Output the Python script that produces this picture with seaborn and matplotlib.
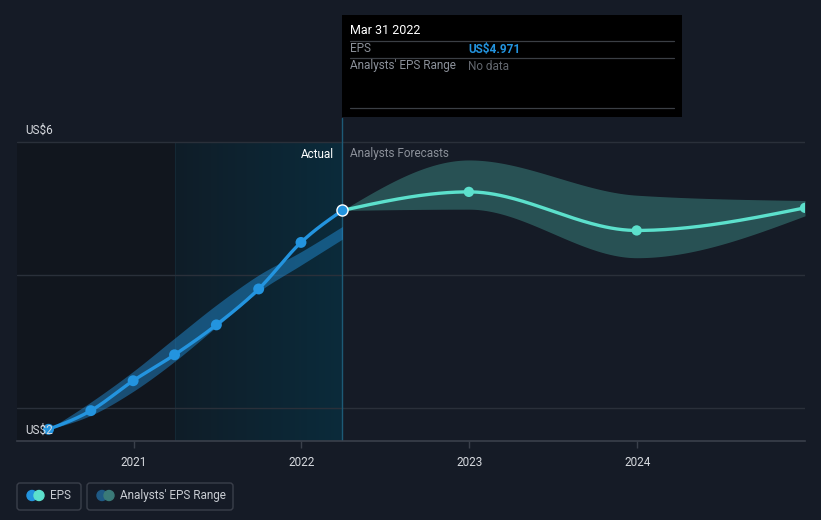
import numpy as np
import pandas as pd
import matplotlib
matplotlib.use("Agg")
import matplotlib.pyplot as plt
import matplotlib.dates as mdates
from matplotlib.patches import FancyBboxPatch, Rectangle, Circle
from matplotlib.colors import LinearSegmentedColormap
import seaborn as sns

# ---------------- data ----------------
hist_dates = ["2020-06-30", "2020-09-30", "2020-12-31", "2021-03-31",
              "2021-06-30", "2021-09-30", "2021-12-31", "2022-03-31"]
hist_eps = [1.68, 1.96, 2.41, 2.80, 3.25, 3.79, 4.49, 4.971]
hist_low = [1.68, 1.89, 2.25, 2.70, 3.22, 3.75, 4.15, 4.54]
hist_high = [1.68, 2.09, 2.55, 3.05, 3.55, 4.00, 4.35, 4.73]

fc_dates = ["2022-03-31", "2022-12-31", "2023-12-31", "2024-12-31"]
fc_eps = [4.971, 5.25, 4.67, 5.01]
fc_low = [4.971, 4.99, 4.26, 4.89]
fc_high = [4.971, 5.73, 5.20, 5.12]

year_ticks = ["2021", "2022", "2023", "2024"]
y_labels = ["US$6", "US$2"]
grid_vals = [2, 4, 6]

# ---------------- style ----------------
BG = "#151b26"
sns.set_theme(style="dark")
plt.rcParams["font.family"] = ["Roboto", "DejaVu Sans"]

W, H = 821, 520
fig = plt.figure(figsize=(W / 100, H / 100), dpi=100, facecolor=BG)


def px_box(x0, y0, x1, y1):
    return [x0 / W, 1 - y1 / H, (x1 - x0) / W, (y1 - y0) / H]


ax = fig.add_axes(px_box(17, 118, 805, 441))
ax.set_facecolor(BG)


def monotone(x, y, n=60):
    x = np.asarray(x, float)
    y = np.asarray(y, float)
    h = np.diff(x)
    s = np.diff(y) / h
    t = np.zeros_like(y)
    for i in range(1, len(x) - 1):
        h0, h1, s0, s1 = h[i - 1], h[i], s[i - 1], s[i]
        p = (s0 * h1 + s1 * h0) / (h0 + h1)
        t[i] = (np.sign(s0) + np.sign(s1)) * min(abs(s0), abs(s1), 0.5 * abs(p))
    if len(x) > 2:
        t[0] = (3 * s[0] - t[1]) / 2
        t[-1] = (3 * s[-1] - t[-2]) / 2
    else:
        t[0] = t[-1] = s[0]
    xs, ys = [], []
    for i in range(len(x) - 1):
        u = np.linspace(0, 1, n)
        hh = h[i]
        h00 = 2 * u**3 - 3 * u**2 + 1
        h10 = u**3 - 2 * u**2 + u
        h01 = -2 * u**3 + 3 * u**2
        h11 = u**3 - u**2
        xs.append(x[i] + u * hh)
        ys.append(h00 * y[i] + h10 * hh * t[i] + h01 * y[i + 1] + h11 * hh * t[i + 1])
    return np.concatenate(xs), np.concatenate(ys)


hd = mdates.date2num(pd.to_datetime(hist_dates))
fd = mdates.date2num(pd.to_datetime(fc_dates))

x_left = mdates.date2num(pd.Timestamp("2022-01-01")) + (17 - 301.7) / 168 * 365
x_right = mdates.date2num(pd.Timestamp("2024-12-31"))
y_bottom = 6 - (441 - 142) / 66.5
y_top = 6 + (142 - 118) / 66.5
ax.set_xlim(x_left, x_right)
ax.set_ylim(y_bottom, y_top)

# shaded regions
x_teal0 = mdates.date2num(pd.Timestamp("2021-03-31"))
x_now = hd[-1]
ax.fill_between([x_left, x_teal0], y_bottom, 6, color="#11161e", zorder=0, lw=0)
grad = np.linspace(0, 1, 256).reshape(1, -1)
cmap = LinearSegmentedColormap.from_list("t", ["#0f1d28", "#0b2b3b"])
ax.imshow(grad, extent=[x_teal0, x_now, y_bottom, 6], aspect="auto", cmap=cmap,
          zorder=0, interpolation="bicubic")
ax.plot([x_teal0, x_teal0], [y_bottom, 6], color="#142834", lw=0.8, zorder=0.5)

# grid lines
for g in grid_vals:
    ax.axhline(g, color="#2a303a", lw=1, zorder=1)

# vertical now-line
ax.axvline(x_now, color="#1d5a76", lw=1, zorder=2)

# historic estimate band
bx, bl = monotone(hd, hist_low)
_, bh = monotone(hd, hist_high)
ax.fill_between(bx, bl, bh, color="#2394df", alpha=0.45, lw=0, zorder=3)

# forecast band
fx, fl = monotone(fd, fc_low)
_, fh = monotone(fd, fc_high)
ax.fill_between(fx, fl, fh, color="#5ce0cc", alpha=0.28, lw=0, zorder=3)

# EPS lines
hx, hy = monotone(hd, hist_eps)
sns.lineplot(x=hx, y=hy, ax=ax, color="#2394df", lw=2.4, zorder=5, sort=False)
fx2, fy2 = monotone(fd, fc_eps)
sns.lineplot(x=fx2, y=fy2, ax=ax, color="#5ce0cc", lw=2.4, zorder=5, sort=False)

sns.scatterplot(x=hd[:-1], y=hist_eps[:-1], ax=ax, color="#2394df", s=62,
                edgecolor="none", zorder=6)
sns.scatterplot(x=fd[1:], y=fc_eps[1:], ax=ax, color="#5ce0cc", s=55,
                edgecolor="none", zorder=6)
ax.scatter([hd[-1]], [hist_eps[-1]], s=64, color="#2394df", edgecolor="white",
           linewidth=1.0, zorder=7)

# axes styling
for sp in ["top", "right", "left"]:
    ax.spines[sp].set_visible(False)
ax.spines["bottom"].set_color("#3a404b")
ax.spines["bottom"].set_linewidth(1.2)
ax.set_yticks([])
tick_pos = mdates.date2num(pd.to_datetime([f"{y}-01-01" for y in year_ticks]))
ax.set_xticks(tick_pos)
ax.set_xticklabels(year_ticks, color="#d6d9de", fontsize=8.5)
ax.tick_params(axis="x", length=5, width=1, color="#3a404b", pad=6, bottom=True)
ax.grid(False)

# ---------------- overlay ----------------
ov = fig.add_axes([0, 0, 1, 1], facecolor="none")
ov.set_xlim(0, W)
ov.set_ylim(H, 0)
ov.axis("off")

ov.text(25, 130, y_labels[0], color="#d6d9de", fontsize=8.5, va="center", ha="left")
ov.text(25, 430, y_labels[1], color="#d6d9de", fontsize=8.5, va="center", ha="left", zorder=1)

ov.text(334, 154, "Actual", color="#ffffff", fontsize=8.5, ha="right", va="center")
ov.text(350, 154, "Analysts Forecasts", color="#8b9099", fontsize=8.5, ha="left", va="center")

# tooltip
ov.add_patch(Rectangle((342, 15), 340, 102, facecolor="#000000", edgecolor="none"))
ov.text(350, 31, "Mar 31 2022", color="#ffffff", fontsize=9, va="center", ha="left")
for yy in [41, 58, 108]:
    ov.plot([350, 674], [yy, yy], color="#3b3f45", lw=0.9)
ov.text(350, 49, "EPS", color="#8b9099", fontsize=8.5, va="center")
ov.text(468, 49, "US$4.971", color="#2394df", fontsize=8.5, va="center", fontweight="bold")
ov.text(350, 66, "Analysts' EPS Range", color="#8b9099", fontsize=8.5, va="center")
ov.text(468, 66, "No data", color="#63676e", fontsize=8.5, va="center")

# legend
for (x0, w, c1, c2, lab) in [(17, 64, "#2394df", "#5ce0cc", "EPS"),
                             (87, 146, "#1f5a85", "#3a7a78", "Analysts' EPS Range")]:
    ov.add_patch(FancyBboxPatch((x0, 483), w, 27, boxstyle="round,pad=0,rounding_size=3",
                                facecolor="none", edgecolor="#3a3f4a", lw=1))
    ov.add_patch(Circle((x0 + 15, 495.5), 5, color=c1, zorder=3))
    ov.add_patch(Circle((x0 + 22, 495.5), 5, color=c2, zorder=4))
    ov.text(x0 + 33, 495.5, lab, color="#c8ccd2", fontsize=8.5, va="center", ha="left")

fig.savefig("out.png", dpi=100, facecolor=BG)
